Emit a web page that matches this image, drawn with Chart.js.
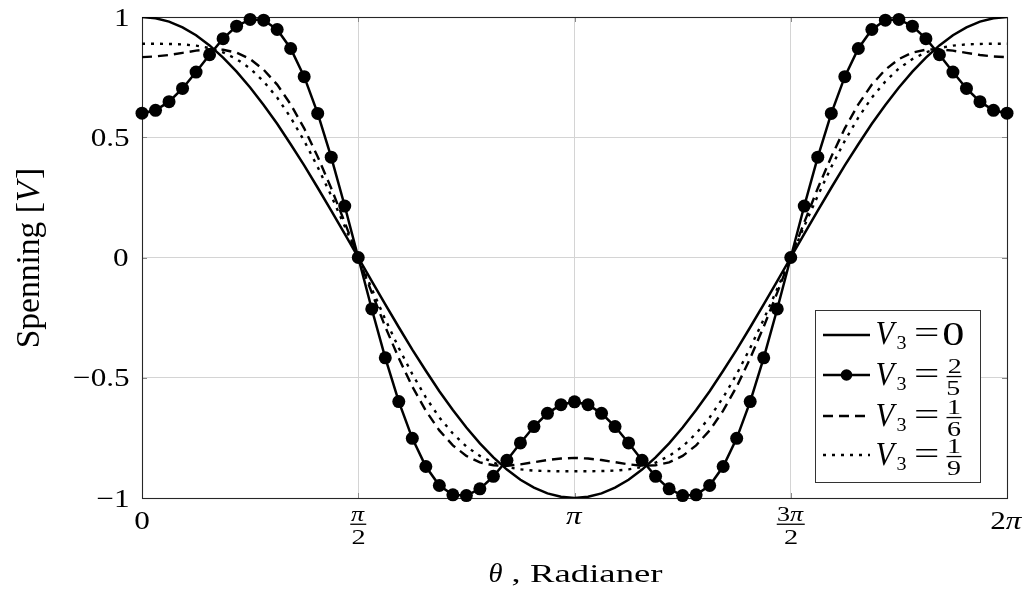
<!DOCTYPE html>
<html>
<head>
<meta charset="utf-8">
<script src="https://cdn.jsdelivr.net/npm/chart.js@4/dist/chart.umd.min.js"></script>
<style>
html,body{margin:0;padding:0;background:#fff;}
#wrap{width:1026px;height:597px;position:relative;}
</style>
</head>
<body>
<div id="wrap"><canvas id="c" width="1026" height="597"></canvas></div>
<script>
// ---- data (θ = step · π/32) ----
const thetaSteps = [0,1,2,3,4,5,6,7,8,9,10,11,12,13,14,15,16,17,18,19,20,21,22,23,24,25,26,27,28,29,30,31,32,
  33,34,35,36,37,38,39,40,41,42,43,44,45,46,47,48,49,50,51,52,53,54,55,56,57,58,59,60,61,62,63,64];

const v3Zero = [1, 0.995, 0.981, 0.957, 0.924, 0.882, 0.831, 0.773, 0.707, 0.634, 0.556, 0.471, 0.383, 0.290, 0.195, 0.098, 0,
  -0.098, -0.195, -0.290, -0.383, -0.471, -0.556, -0.634, -0.707, -0.773, -0.831, -0.882, -0.924, -0.957, -0.981, -0.995, -1,
  -0.995, -0.981, -0.957, -0.924, -0.882, -0.831, -0.773, -0.707, -0.634, -0.556, -0.471, -0.383, -0.290, -0.195, -0.098, 0,
  0.098, 0.195, 0.290, 0.383, 0.471, 0.556, 0.634, 0.707, 0.773, 0.831, 0.882, 0.924, 0.957, 0.981, 0.995, 1];

const v3TwoFifths = [0.600, 0.612, 0.648, 0.703, 0.771, 0.843, 0.910, 0.962, 0.990, 0.987, 0.948, 0.869, 0.752, 0.599, 0.417, 0.214, 0,
  -0.214, -0.417, -0.599, -0.752, -0.869, -0.948, -0.987, -0.990, -0.962, -0.910, -0.843, -0.771, -0.703, -0.648, -0.612, -0.600,
  -0.612, -0.648, -0.703, -0.771, -0.843, -0.910, -0.962, -0.990, -0.987, -0.948, -0.869, -0.752, -0.599, -0.417, -0.214, 0,
  0.214, 0.417, 0.599, 0.752, 0.869, 0.948, 0.987, 0.990, 0.962, 0.910, 0.843, 0.771, 0.703, 0.648, 0.612, 0.600];

const v3OneSixth = [0.833, 0.836, 0.842, 0.851, 0.860, 0.866, 0.864, 0.852, 0.825, 0.781, 0.719, 0.637, 0.537, 0.419, 0.288, 0.146, 0,
  -0.146, -0.288, -0.419, -0.537, -0.637, -0.719, -0.781, -0.825, -0.852, -0.864, -0.866, -0.860, -0.851, -0.842, -0.836, -0.833,
  -0.836, -0.842, -0.851, -0.860, -0.866, -0.864, -0.852, -0.825, -0.781, -0.719, -0.637, -0.537, -0.419, -0.288, -0.146, 0,
  0.146, 0.288, 0.419, 0.537, 0.637, 0.719, 0.781, 0.825, 0.852, 0.864, 0.866, 0.860, 0.851, 0.842, 0.836, 0.833];

const v3OneNinth = [0.889, 0.889, 0.888, 0.886, 0.881, 0.871, 0.853, 0.825, 0.786, 0.732, 0.665, 0.582, 0.485, 0.376, 0.257, 0.130, 0,
  -0.130, -0.257, -0.376, -0.485, -0.582, -0.665, -0.732, -0.786, -0.825, -0.853, -0.871, -0.881, -0.886, -0.888, -0.889, -0.889,
  -0.889, -0.888, -0.886, -0.881, -0.871, -0.853, -0.825, -0.786, -0.732, -0.665, -0.582, -0.485, -0.376, -0.257, -0.130, 0,
  0.130, 0.257, 0.376, 0.485, 0.582, 0.665, 0.732, 0.786, 0.825, 0.853, 0.871, 0.881, 0.886, 0.888, 0.889, 0.889];

const xTickSteps = [0, 16, 32, 48, 64];
const xTickNum = ['0', 'π', 'π', '3π', '2π'];
const xTickDen = ['', '2', '', '2', ''];
const yTickValues = [-1, -0.5, 0, 0.5, 1];
const yTickLabels = ['−1', '−0.5', '0', '0.5', '1'];
const legendNum = ['0', '2', '1', '1'];
const legendDen = ['', '5', '6', '9'];
const xTitle = ['θ', ',', 'Radianer'];
const yTitle = ['Spenning [', 'V', ']'];

// ---- helpers ----
const SERIF = '"Liberation Serif", "Times New Roman", serif';
function pts(vals){ return thetaSteps.map((s,i)=>({x:s, y:vals[i]})); }

function drawRuns(ctx, runs, x, y, o){
  o = Object.assign({sx:1, sy:1, align:'left', valign:'base', w:null, color:'#000'}, o||{});
  ctx.save();
  ctx.textAlign = 'left'; ctx.textBaseline = 'alphabetic';
  let pos = 0, L = Infinity, R = -Infinity, A = 0;
  const placed = runs.map(r=>{
    ctx.font = r.font;
    const m = ctx.measureText(r.t);
    const dy = r.dy || 0;
    const p = {t:r.t, font:r.font, x:pos, dy:dy};
    L = Math.min(L, pos - m.actualBoundingBoxLeft);
    R = Math.max(R, pos + m.actualBoundingBoxRight);
    A = Math.max(A, m.actualBoundingBoxAscent - dy);
    pos += m.width + (r.gap || 0);
    return p;
  });
  const inkW = R - L;
  const sx = o.w ? o.w / inkW : o.sx;
  let left;
  if (o.align === 'left') left = x;
  else if (o.align === 'right') left = x - inkW * sx;
  else left = x - inkW * sx / 2;
  let base = y;
  if (o.valign === 'top') base = y + A * o.sy;
  else if (o.valign === 'middle') base = y + A * o.sy / 2;
  ctx.translate(left, base);
  ctx.scale(sx, o.sy);
  ctx.fillStyle = o.color;
  placed.forEach(p=>{ ctx.font = p.font; ctx.fillText(p.t, p.x - L, p.dy); });
  ctx.restore();
}

function piRuns(txt, size){
  const runs = [];
  for (const ch of txt){
    runs.push({t:ch, font:(ch === 'π' ? 'italic ' : '') + size + 'px ' + SERIF});
  }
  return runs;
}

const decor = {
  id: 'decor',
  beforeDatasetsDraw(chart){
    const {ctx, chartArea:a} = chart;
    const xs = chart.scales.x, ys = chart.scales.y;
    ctx.save();
    ctx.strokeStyle = '#8a8a8a'; ctx.lineWidth = 1;
    ctx.beginPath();
    xTickSteps.forEach(s=>{
      const px = Math.round(xs.getPixelForValue(s)) + 0.5;
      ctx.moveTo(px, a.bottom); ctx.lineTo(px, a.bottom - 5);
      ctx.moveTo(px, a.top); ctx.lineTo(px, a.top + 5);
    });
    yTickValues.forEach(v=>{
      const py = Math.round(ys.getPixelForValue(v)) + 0.5;
      ctx.moveTo(a.left, py); ctx.lineTo(a.left + 5, py);
      ctx.moveTo(a.right, py); ctx.lineTo(a.right - 5, py);
    });
    ctx.stroke();
    ctx.strokeStyle = '#262626'; ctx.lineWidth = 1.1;
    ctx.strokeRect(Math.round(a.left)+0.5, Math.round(a.top)+0.5,
                   Math.round(a.right)-Math.round(a.left), Math.round(a.bottom)-Math.round(a.top));
    ctx.restore();
  },
  afterDraw(chart){
    const {ctx} = chart;
    const xs = chart.scales.x, ys = chart.scales.y;
    yTickValues.forEach((v,i)=>{
      const py = ys.getPixelForValue(v);
      drawRuns(ctx, [{t:yTickLabels[i], font:'26px ' + SERIF}], 128.5, py, {sx:1.2, align:'right', valign:'middle'});
    });
    xTickSteps.forEach((s,i)=>{
      const px = xs.getPixelForValue(s);
      if (!xTickDen[i]){
        drawRuns(ctx, piRuns(xTickNum[i], 26), px, 512, {sx:1.2, align:'center', valign:'top'});
      } else {
        drawRuns(ctx, piRuns(xTickNum[i], 20), px, 520.5, {sx:1.3, align:'center'});
        drawRuns(ctx, [{t:xTickDen[i], font:'21px ' + SERIF}], px, 543.5, {sx:1.35, align:'center'});
        const hw = xTickNum[i].length > 1 ? 14 : 8;
        ctx.save(); ctx.fillStyle = '#000';
        ctx.fillRect(px - hw, 523.6, hw*2, 1.3);
        ctx.restore();
      }
    });
    drawRuns(ctx, [{t:xTitle[0], font:'italic 27px ' + SERIF}], 489.5, 582.3, {w:12.7});
    drawRuns(ctx, [{t:xTitle[1], font:'26px ' + SERIF}], 511.5, 582.3, {sx:1.4});
    drawRuns(ctx, [{t:xTitle[2], font:'26px ' + SERIF}], 530, 582.3, {w:133});
    ctx.save();
    ctx.translate(39, 258.5);
    ctx.rotate(-Math.PI/2);
    drawRuns(ctx, [
      {t:yTitle[0], font:'26px ' + SERIF},
      {t:yTitle[1], font:'italic 26px ' + SERIF, gap:2},
      {t:yTitle[2], font:'26px ' + SERIF}
    ], 0, 0, {w:177, sy:1.3, align:'center'});
    ctx.restore();

    ctx.save();
    ctx.fillStyle = '#fff';
    ctx.fillRect(815.5, 310.5, 165, 172);
    ctx.strokeStyle = '#333'; ctx.lineWidth = 1;
    ctx.strokeRect(815.5, 310.5, 165, 172);
    const lineY = [335, 375, 416, 455];
    const baseY = [343.5, 385, 425.5, 465];
    chart.data.datasets.forEach((ds, i)=>{
      ctx.save();
      ctx.strokeStyle = '#000';
      ctx.lineWidth = ds.borderWidth;
      ctx.setLineDash(ds.borderDash || []);
      ctx.lineCap = 'butt';
      ctx.beginPath(); ctx.moveTo(823, lineY[i]); ctx.lineTo(870, lineY[i]); ctx.stroke();
      ctx.setLineDash([]);
      if (ds.pointRadius > 0){
        ctx.fillStyle = '#000';
        ctx.beginPath(); ctx.arc(846.5, lineY[i], 5.8, 0, Math.PI*2); ctx.fill();
      }
      ctx.restore();
      const b = baseY[i];
      drawRuns(ctx, [{t:'V', font:'italic 34px ' + SERIF}], 876.5, b, {w:21.5});
      drawRuns(ctx, [{t:'3', font:'19px ' + SERIF}], 896.5, b + 5, {w:9.5});
      drawRuns(ctx, [{t:'=', font:'32px ' + SERIF}], 915.5, b - 1, {w:22.5});
      if (!legendDen[i]){
        drawRuns(ctx, [{t:legendNum[i], font:'34px ' + SERIF}], 943.5, b + 1, {w:19.5});
      } else {
        const barY = lineY[i] + 1.5;
        drawRuns(ctx, [{t:legendNum[i], font:'20px ' + SERIF}], 954, barY - 3.3, {sx:1.4, align:'center'});
        drawRuns(ctx, [{t:legendDen[i], font:'20px ' + SERIF}], 954, barY + 18.5, {sx:1.4, align:'center'});
        ctx.fillStyle = '#000';
        ctx.fillRect(946.5, barY - 0.6, 15, 1.3);
      }
    });
    ctx.restore();
  }
};

const gridCol = 'rgb(212,212,212)';
function build(){
  new Chart(document.getElementById('c'), {
    type: 'line',
    data: {
      datasets: [
        {label:'V3 = 0', data: pts(v3Zero), borderColor:'#000', borderWidth:2.5, pointRadius:0, tension:0, order:3},
        {label:'V3 = 2/5', data: pts(v3TwoFifths), borderColor:'#000', borderWidth:2.5, pointRadius:6.5,
          pointHoverRadius:6.5, pointBackgroundColor:'#000', pointBorderColor:'#000', pointBorderWidth:0, tension:0, clip:false, order:2},
        {label:'V3 = 1/6', data: pts(v3OneSixth), borderColor:'#000', borderWidth:2.4, borderDash:[10,6], pointRadius:0, tension:0, order:1},
        {label:'V3 = 1/9', data: pts(v3OneNinth), borderColor:'#000', borderWidth:2.4, borderDash:[3,6], borderCapStyle:'butt', pointRadius:0, tension:0, order:0}
      ]
    },
    options: {
      responsive: false,
      animation: false,
      events: [],
      layout: {padding: {left:142, right:19, top:17, bottom:99}},
      plugins: {legend:{display:false}, tooltip:{enabled:false}},
      scales: {
        x: {
          type:'linear', min:0, max:64,
          afterBuildTicks: s => { s.ticks = xTickSteps.map(v=>({value:v})); },
          afterFit: s => { s.height = 0; },
          ticks:{display:false},
          grid:{color:gridCol, lineWidth:1, drawTicks:false},
          border:{display:false}
        },
        y: {
          type:'linear', min:-1, max:1,
          afterBuildTicks: s => { s.ticks = yTickValues.map(v=>({value:v})); },
          afterFit: s => { s.width = 0; },
          ticks:{display:false},
          grid:{color:gridCol, lineWidth:1, drawTicks:false},
          border:{display:false}
        }
      }
    },
    plugins: [decor]
  });
}
const fontLoads = ['26px "Liberation Serif"', 'italic 26px "Liberation Serif"'].map(f => document.fonts.load(f).catch(()=>null));
Promise.all(fontLoads).then(build, build);
</script>
</body>
</html>
